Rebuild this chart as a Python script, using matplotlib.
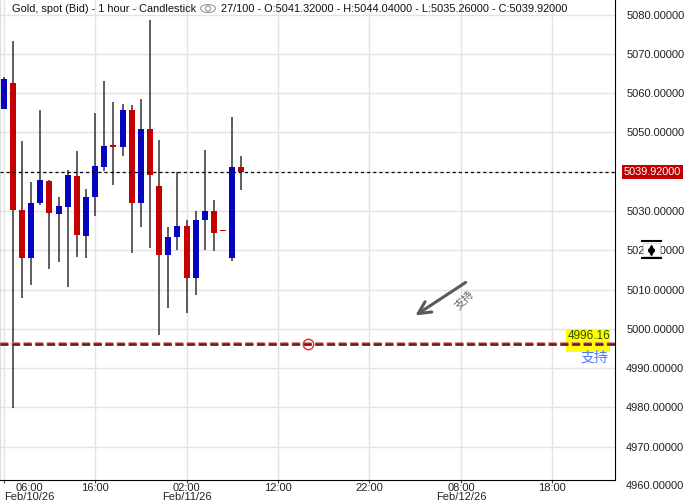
import matplotlib
matplotlib.use("Agg")
import matplotlib.pyplot as plt
import matplotlib.patheffects as pe
from matplotlib.patches import Ellipse, Rectangle, Circle
from matplotlib.transforms import IdentityTransform

plt.rcParams['font.family'] = ['Liberation Sans', 'Noto Sans CJK SC', 'DejaVu Sans']
plt.rcParams['lines.scale_dashes'] = False

# hourly candles, hours counted from Feb/10/26 00:00
hours = list(range(6, 33))
opens = [5056.1, 5062.6, 5030.3, 5017.9, 5032.0, 5037.6, 5029.2, 5031.0, 5038.9, 5023.7,
         5033.6, 5041.3, 5046.6, 5046.4, 5055.8, 5032.0, 5050.9, 5036.4, 5018.8, 5023.4,
         5026.2, 5012.9, 5027.7, 5030.0, 5025.0, 5017.9, 5041.32]
closes = [5063.6, 5030.3, 5017.9, 5032.0, 5037.9, 5029.5, 5031.3, 5039.2, 5023.9, 5033.6,
          5041.5, 5046.6, 5046.4, 5055.8, 5032.0, 5050.9, 5039.2, 5018.8, 5023.4, 5026.2,
          5012.9, 5027.7, 5030.0, 5024.4, 5024.9, 5041.2, 5039.92]
highs = [5064.1, 5073.4, 5047.8, 5037.4, 5055.7, 5037.9, 5033.6, 5040.4, 5045.3, 5035.6,
         5055.0, 5063.2, 5057.8, 5057.3, 5057.0, 5058.5, 5078.7, 5048.1, 5025.9, 5040.0,
         5027.7, 5030.0, 5045.5, 5032.8, 5025.0, 5053.9, 5044.04]
lows = [5056.0, 4979.8, 5007.9, 5011.2, 5031.4, 5015.3, 5017.1, 5010.7, 5018.4, 5017.9,
        5028.8, 5040.3, 5036.7, 5044.1, 5019.4, 5026.0, 5020.6, 4998.4, 5005.4, 5020.1,
        5004.1, 5008.6, 5020.1, 5019.8, 5024.9, 5017.3, 5035.26]

last_price = 5039.92
support = 4996.16
support_text = "支持"

xtick_hours = [6, 16, 26, 36, 46, 56, 66]
xtick_labels = ["06:00\nFeb/10/26", "16:00", "02:00\nFeb/11/26", "12:00", "22:00",
                "08:00\nFeb/12/26", "18:00"]
ytick_values = list(range(4970, 5090, 10))

title_left = "Gold, spot (Bid) - 1 hour - Candlestick"
title_right = "27/100 - O:5041.32000 - H:5044.04000 - L:5035.26000 - C:5039.92000"

W, H = 684, 504
fig = plt.figure(figsize=(W / 100, H / 100), dpi=100)
ax = fig.add_axes([0, 24 / H, 615 / W, 480 / H])

x0 = 5.6
pxh = 9.146
ax.set_xlim(x0, x0 + 615 / pxh)
ax.set_ylim(4961.48, 5083.74)

# grid
for v in ytick_values:
    ax.axhline(v, color='#e3e3e3', lw=1.0, zorder=0)
for h in xtick_hours:
    ax.axvline(h, color='#e3e3e3', lw=1.0, zorder=0)

# candles
blue, red = '#0505c0', '#c40000'
for h, o, c, hi, lo in zip(hours, opens, closes, highs, lows):
    ax.vlines(h, lo, hi, color='#333333', lw=1.1, zorder=2)
    col = blue if c > o else red
    b = min(o, c)
    hgt = max(abs(c - o), 0.3)
    ax.bar(h, hgt, bottom=b, width=0.66, color=col, lw=0, zorder=3)

# last price line
ax.axhline(last_price, color='black', lw=0.9, ls=(0, (2.2, 2.2)), zorder=4)

# support line
ax.axhline(support, color='#7a1414', lw=1.8, ls=(0, (5.8, 2.6)), zorder=5,
           path_effects=[pe.Stroke(linewidth=2.8, foreground='#c89090'), pe.Normal()])
ax.plot(x0 + 308 / pxh, support, 'o', mfc='none', mec='#ff2020', ms=7.5, mew=1.0, zorder=6)

# arrow with label
ax.annotate('', xy=(x0 + 413 / pxh, 5003.0), xytext=(x0 + 468 / pxh, 5012.2),
            arrowprops=dict(arrowstyle='->', color='#5a5a5a', lw=2.2, mutation_scale=22),
            zorder=6)
ax.text(x0 + 465 / pxh, 5007.3, support_text, rotation=45, color='#666666', fontsize=8,
        ha='center', va='center', zorder=6)

# yellow price tag and blue label
ax.add_patch(Rectangle((x0 + 566 / pxh, 4994.0), 44 / pxh, 6.0, color='#ffff00', lw=0, zorder=4))
ax.text(x0 + 589.5 / pxh, 4998.1, "4996.16", color='#2e4a00', fontsize=8.5,
        ha='center', va='center', zorder=7)
ax.text(x0 + 594 / pxh, 4992.6, support_text, color='#4a78ff', fontsize=10,
        ha='center', va='center', zorder=7)

# spines and ticks
ax.spines['top'].set_visible(False)
ax.spines['left'].set_color('#dddddd')
ax.spines['right'].set_color('black')
ax.spines['bottom'].set_color('black')
ax.yaxis.tick_right()
ax.set_yticks(ytick_values)
# the 5040 label sits under the last-price tag
ax.set_yticklabels(["" if v == 5040 else "%.5f" % v for v in ytick_values])
ax.tick_params(axis='y', length=0, pad=8, labelsize=8, labelcolor='#222222')
ax.set_xticks(xtick_hours)
ax.set_xticklabels([])
ax.tick_params(axis='x', length=2, color='#444444')
ax.annotate("4960.00000", xy=(1, 4960), xycoords=('axes fraction', 'data'), xytext=(11, 0),
            textcoords='offset pixels', va='center', ha='left', fontsize=8, color='#222222',
            annotation_clip=False)

for h, lab in zip(xtick_hours, xtick_labels):
    if h == 6:
        ax.text(x0 + 4 / pxh, -0.006, lab, transform=ax.get_xaxis_transform(), ha='left',
                va='top', fontsize=8, multialignment='center', linespacing=0.95, color='#222222')
    else:
        ax.text(h, -0.006, lab, transform=ax.get_xaxis_transform(), ha='center',
                va='top', fontsize=8, multialignment='center', linespacing=0.95, color='#222222')

# last price tag
ax.annotate("%.5f" % last_price, xy=(1, last_price), xycoords=('axes fraction', 'data'),
            xytext=(9, 0), textcoords='offset pixels', va='center', ha='left', fontsize=7.8,
            color='white', annotation_clip=False,
            bbox=dict(boxstyle='square,pad=0.18', fc='#c00000', ec='none'))

# scroll icon over the 5020 label
pix = IdentityTransform()
fig.patches.append(Rectangle((643, H - 256), 17, 13, transform=pix, fc='white', ec='#cccccc', lw=0.5))
fig.lines.append(plt.Line2D([642, 661], [H - 241, H - 241], transform=pix, color='black', lw=1.5))
fig.lines.append(plt.Line2D([642, 661], [H - 258, H - 258], transform=pix, color='black', lw=1.5))
fig.lines.append(plt.Line2D([651], [H - 247.5], transform=pix, marker='^', ms=4, color='black', lw=0))
fig.lines.append(plt.Line2D([651], [H - 251.5], transform=pix, marker='v', ms=4, color='black', lw=0))

# header
fig.text(12 / W, 1 - 8.5 / H, title_left, fontsize=7.9, va='center', ha='left', color='#111111')
fig.patches.append(Ellipse((208, H - 8.5), 15, 8, transform=pix, fill=False, ec='#999999', lw=0.8))
fig.patches.append(Circle((208, H - 8.5), 2.6, transform=pix, fill=False, ec='#999999', lw=0.8))
fig.text(221 / W, 1 - 8.5 / H, title_right, fontsize=7.9, va='center', ha='left', color='#111111')

fig.savefig("out.png", dpi=100, facecolor='white')
